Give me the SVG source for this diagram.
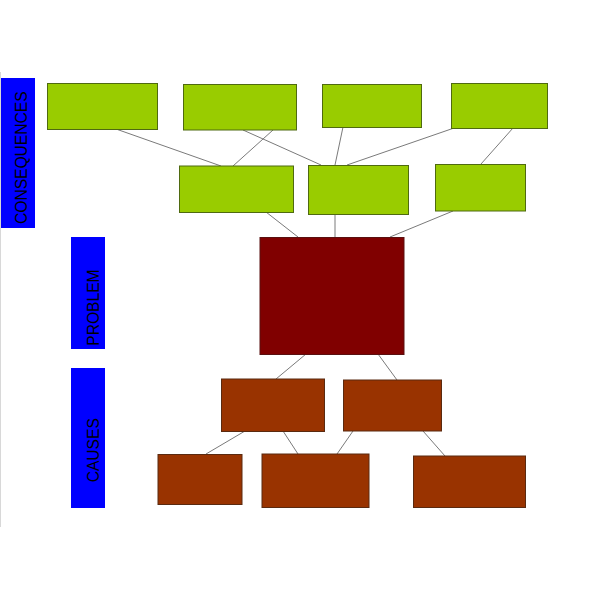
<svg xmlns="http://www.w3.org/2000/svg" width="600" height="600" viewBox="0 0 600 600">
<style>
.lbl{fill:#0000FF}
.lt{font-family:"Liberation Sans",Arial,sans-serif;font-size:15.6px;fill:#000}
.g{fill:#99CC00;stroke:#4F6A10;stroke-width:1}
.b{fill:#993300;stroke:#5A2A10;stroke-width:1}
.p{fill:#800000;stroke:#5A1010;stroke-width:1}
.c line{stroke:#7a7a7a;stroke-width:1}
</style>
<rect width="600" height="600" fill="#fff"/>
<line x1="0.5" y1="72" x2="0.5" y2="527" stroke="#d8d8d8" stroke-width="1"/>
<g id="label-consequences"><rect class="lbl" x="1" y="78" width="34" height="150"/><text class="lt" transform="translate(27.3,224) rotate(-90)">CONSEQUENCES</text></g>
<g id="label-problem"><rect class="lbl" x="71" y="237" width="34" height="112"/><text class="lt" transform="translate(99.3,345.7) rotate(-90)">PROBLEM</text></g>
<g id="label-causes"><rect class="lbl" x="71" y="368" width="34" height="140"/><text class="lt" transform="translate(99.3,482.3) rotate(-90)">CAUSES</text></g>
<g class="c" id="connectors">
<line x1="116" y1="129" x2="221" y2="166"/>
<line x1="273" y1="130" x2="233" y2="166"/>
<line x1="243" y1="130" x2="321" y2="165"/>
<line x1="343" y1="127" x2="335" y2="165"/>
<line x1="457" y1="127" x2="347" y2="165"/>
<line x1="513" y1="128" x2="481" y2="164"/>
<line x1="266" y1="212" x2="298" y2="237"/>
<line x1="335" y1="214" x2="335" y2="237"/>
<line x1="453" y1="211" x2="390" y2="237"/>
<line x1="306" y1="354" x2="276" y2="379"/>
<line x1="378" y1="354" x2="397" y2="380"/>
<line x1="245" y1="431" x2="206" y2="454"/>
<line x1="283" y1="431" x2="298" y2="454"/>
<line x1="353" y1="431" x2="337" y2="454"/>
<line x1="423" y1="431" x2="445" y2="456"/>
</g>
<g id="c1"><rect class="g" x="47.5" y="83.5" width="110" height="46"/></g>
<g id="c2"><rect class="g" x="183.5" y="84.5" width="113" height="45.5"/></g>
<g id="c3"><rect class="g" x="322.5" y="84.5" width="99" height="43"/></g>
<g id="c4"><rect class="g" x="451.5" y="83.5" width="96" height="45"/></g>
<g id="c5"><rect class="g" x="179.5" y="166" width="114" height="46.5"/></g>
<g id="c6"><rect class="g" x="308.5" y="165.5" width="100" height="49"/></g>
<g id="c7"><rect class="g" x="435.5" y="164.5" width="90" height="46.5"/></g>
<g id="problem"><rect class="p" x="260" y="237.5" width="144" height="117"/></g>
<g id="a"><rect class="b" x="221.5" y="379" width="103" height="52.5"/></g>
<g id="b"><rect class="b" x="343.5" y="380" width="98" height="51"/></g>
<g id="cc"><rect class="b" x="158" y="454.5" width="84" height="50"/></g>
<g id="d"><rect class="b" x="262" y="454" width="107" height="53.5"/></g>
<g id="e"><rect class="b" x="413.5" y="456" width="112" height="51.5"/></g>
</svg>
